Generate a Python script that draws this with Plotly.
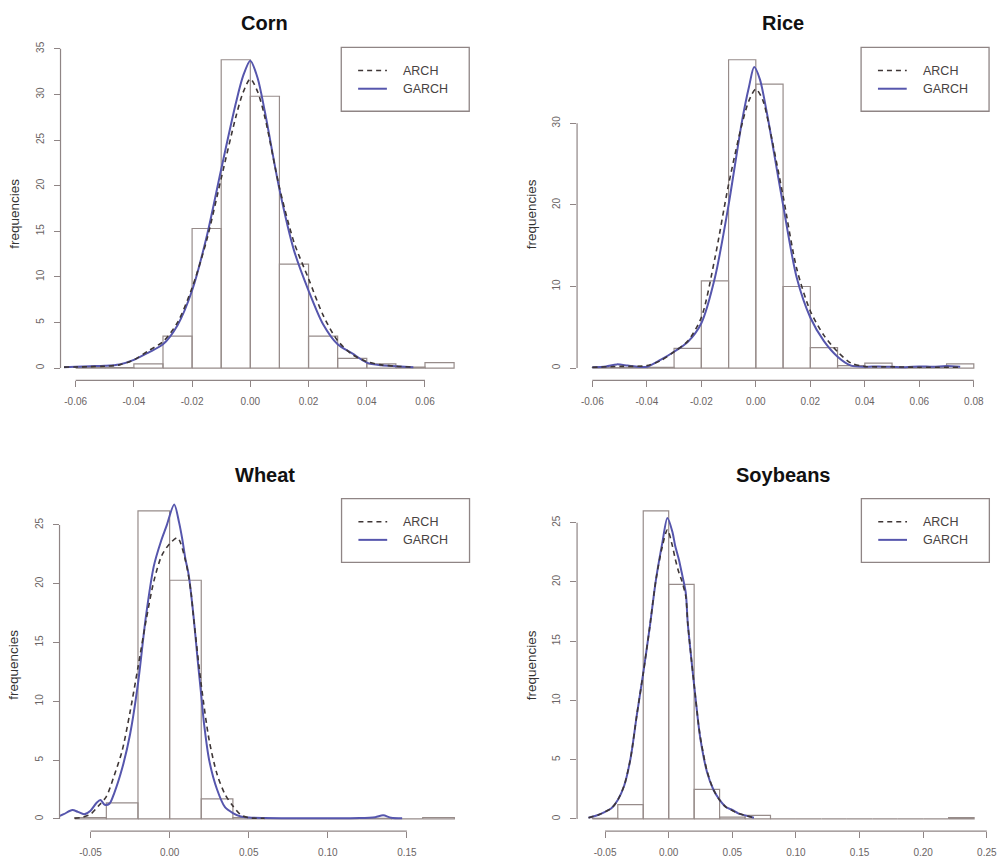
import plotly.graph_objects as go

# ---------------- data ----------------
panel_titles = ["Corn", "Rice", "Wheat", "Soybeans"]
series_names = ["ARCH", "GARCH"]

# histogram breaks and bar heights (density scale)
corn_breaks = [-0.06, -0.05, -0.04, -0.03, -0.02, -0.01, 0.0, 0.01, 0.02, 0.03, 0.04, 0.05, 0.06, 0.07]
corn_freq = [0.05, 0.05, 0.45, 3.5, 15.3, 33.8, 29.8, 11.4, 3.5, 1.05, 0.45, 0.1, 0.6]

rice_breaks = [-0.06, -0.05, -0.04, -0.03, -0.02, -0.01, 0.0, 0.01, 0.02, 0.03, 0.04, 0.05, 0.06, 0.07, 0.08]
rice_freq = [0.05, 0.05, 0.1, 2.4, 10.7, 37.8, 34.8, 10.0, 2.5, 0.3, 0.6, 0.1, 0.1, 0.5]

wheat_breaks = [-0.06, -0.04, -0.02, 0.0, 0.02, 0.04, 0.06, 0.08, 0.10, 0.12, 0.14, 0.16, 0.18]
wheat_freq = [0.12, 1.36, 26.2, 20.3, 1.7, 0.12, 0.0, 0.0, 0.0, 0.05, 0.0, 0.12]

soy_breaks = [-0.06, -0.04, -0.02, 0.0, 0.02, 0.04, 0.06, 0.08, 0.10, 0.12, 0.14, 0.16, 0.18, 0.20, 0.22, 0.24]
soy_freq = [0.05, 1.2, 26.0, 19.8, 2.5, 0.15, 0.3, 0.0, 0.0, 0.0, 0.0, 0.0, 0.0, 0.0, 0.1]

# fitted densities
corn_x = [-0.064, -0.06, -0.055, -0.05, -0.045, -0.04, -0.035, -0.03, -0.025, -0.02, -0.015, -0.01,
          -0.005, -0.0025, 0.0, 0.0025, 0.005, 0.01, 0.015, 0.02, 0.025, 0.03, 0.035, 0.04, 0.045,
          0.05, 0.056]
corn_garch = [0.1, 0.15, 0.2, 0.25, 0.4, 0.9, 1.7, 2.6, 4.7, 8.5, 14.4, 21.8, 29.0, 32.0, 33.7,
              31.8, 28.1, 19.6, 12.9, 8.5, 4.8, 2.6, 1.6, 0.6, 0.3, 0.2, 0.1]
corn_arch = [0.1, 0.12, 0.15, 0.2, 0.35, 0.9, 1.9, 2.9, 5.0, 8.8, 14.0, 20.8, 27.5, 30.2, 31.7,
             30.3, 27.5, 19.8, 13.8, 9.8, 5.8, 3.0, 1.5, 0.7, 0.35, 0.2, 0.1]

rice_garch_x = [-0.06, -0.055, -0.051, -0.047, -0.043, -0.04, -0.035, -0.03, -0.025, -0.02, -0.015,
                -0.01, -0.005, -0.0025, -0.0006, 0.0015, 0.004, 0.0062, 0.01, 0.015, 0.02, 0.025,
                0.03, 0.035, 0.04, 0.045, 0.05, 0.055, 0.06, 0.065, 0.07, 0.075]
rice_garch = [0.1, 0.2, 0.45, 0.3, 0.15, 0.15, 1.0, 2.0, 3.2, 5.5, 11.1, 20.0, 30.4, 34.5, 36.9,
              35.4, 31.4, 27.3, 20.0, 11.1, 6.2, 3.3, 1.4, 0.3, 0.15, 0.2, 0.15, 0.1, 0.2, 0.15,
              0.25, 0.15]
rice_arch_x = [-0.06, -0.05, -0.04, -0.035, -0.03, -0.025, -0.02, -0.015, -0.01, -0.005, -0.0025,
               0.0, 0.0025, 0.005, 0.01, 0.015, 0.02, 0.025, 0.03, 0.035, 0.04, 0.05, 0.06, 0.075]
rice_arch = [0.1, 0.2, 0.3, 0.9, 2.0, 3.3, 6.2, 13.5, 22.5, 30.0, 32.8, 34.2, 32.9, 29.5, 21.1,
             12.2, 7.0, 4.0, 2.0, 0.6, 0.2, 0.15, 0.1, 0.1]

wheat_garch_x = [-0.072, -0.067, -0.0615, -0.058, -0.054, -0.05, -0.046, -0.0437, -0.041, -0.038,
                 -0.035, -0.03, -0.025, -0.02, -0.015, -0.01, -0.0055, -0.002, 0.0029, 0.006,
                 0.008, 0.01, 0.012, 0.015, 0.0176, 0.02, 0.0218, 0.025, 0.03, 0.035, 0.04,
                 0.045, 0.05, 0.06, 0.08, 0.1, 0.12, 0.13, 0.135, 0.14, 0.147]
wheat_garch = [0.1, 0.4, 0.75, 0.6, 0.4, 0.7, 1.4, 1.6, 1.2, 1.3, 2.2, 4.3, 7.2, 11.5, 17.2, 21.5,
               23.6, 24.9, 26.75, 25.2, 23.8, 22.1, 20.8, 17.4, 13.7, 10.5, 8.05, 5.0, 2.5, 1.0,
               0.5, 0.2, 0.12, 0.08, 0.05, 0.05, 0.07, 0.15, 0.3, 0.1, 0.05]
wheat_arch_x = [-0.06, -0.055, -0.05, -0.045, -0.04, -0.035, -0.03, -0.025, -0.02, -0.015, -0.01,
                -0.005, 0.0, 0.005, 0.01, 0.0134, 0.015, 0.02, 0.025, 0.03, 0.035, 0.04, 0.045,
                0.05, 0.06]
wheat_arch = [0.05, 0.15, 0.4, 1.1, 1.9, 3.7, 5.8, 9.1, 12.9, 16.8, 20.2, 22.4, 23.4, 23.9, 22.0,
              19.4, 17.3, 11.4, 6.7, 3.8, 2.1, 1.1, 0.35, 0.1, 0.05]

soy_x = [-0.063, -0.055, -0.05, -0.045, -0.04, -0.035, -0.03, -0.025, -0.02, -0.015, -0.01, -0.005,
         -0.001, 0.003, 0.005, 0.008, 0.01, 0.0134, 0.015, 0.0178, 0.02, 0.0234, 0.025, 0.03, 0.035,
         0.04, 0.045, 0.05, 0.055, 0.06, 0.067]
soy_garch = [0.1, 0.35, 0.6, 0.9, 1.6, 2.8, 5.1, 8.8, 12.3, 16.1, 20.2, 23.3, 25.4, 24.2, 23.1, 21.9,
             20.9, 19.1, 16.5, 13.5, 11.3, 7.96, 6.7, 4.0, 2.5, 1.6, 1.0, 0.75, 0.45, 0.3, 0.1]
soy_arch = [0.1, 0.35, 0.6, 0.9, 1.6, 2.8, 5.1, 8.8, 12.3, 16.1, 20.2, 23.0, 24.4, 23.0, 22.0, 20.8,
            20.2, 18.8, 16.5, 13.5, 11.3, 8.0, 6.8, 4.1, 2.5, 1.6, 1.0, 0.7, 0.45, 0.3, 0.1]

# axis ticks
corn_xticks = [-0.06, -0.04, -0.02, 0.0, 0.02, 0.04, 0.06]
corn_xlabels = ["-0.06", "-0.04", "-0.02", "0.00", "0.02", "0.04", "0.06"]
corn_yticks = [0, 5, 10, 15, 20, 25, 30, 35]

rice_xticks = [-0.06, -0.04, -0.02, 0.0, 0.02, 0.04, 0.06, 0.08]
rice_xlabels = ["-0.06", "-0.04", "-0.02", "0.00", "0.02", "0.04", "0.06", "0.08"]
rice_yticks = [0, 10, 20, 30]

wheat_xticks = [-0.05, 0.0, 0.05, 0.10, 0.15]
wheat_xlabels = ["-0.05", "0.00", "0.05", "0.10", "0.15"]
wheat_yticks = [0, 5, 10, 15, 20, 25]

soy_xticks = [-0.05, 0.0, 0.05, 0.10, 0.15, 0.20, 0.25]
soy_xlabels = ["-0.05", "0.00", "0.05", "0.10", "0.15", "0.20", "0.25"]
soy_yticks = [0, 5, 10, 15, 20, 25]

panels = [
    dict(breaks=corn_breaks, freq=corn_freq,
         garch=(corn_x, corn_garch), arch=(corn_x, corn_arch),
         xticks=corn_xticks, xlabels=corn_xlabels, yticks=corn_yticks),
    dict(breaks=rice_breaks, freq=rice_freq,
         garch=(rice_garch_x, rice_garch), arch=(rice_arch_x, rice_arch),
         xticks=rice_xticks, xlabels=rice_xlabels, yticks=rice_yticks),
    dict(breaks=wheat_breaks, freq=wheat_freq,
         garch=(wheat_garch_x, wheat_garch), arch=(wheat_arch_x, wheat_arch),
         xticks=wheat_xticks, xlabels=wheat_xlabels, yticks=wheat_yticks),
    dict(breaks=soy_breaks, freq=soy_freq,
         garch=(soy_x, soy_garch), arch=(soy_x, soy_arch),
         xticks=soy_xticks, xlabels=soy_xlabels, yticks=soy_yticks),
]

# ---------------- layout geometry (pixels) ----------------
W, H = 1005, 863
# plot regions: left, top, right, bottom
regions = [
    (61.0, 41.7, 473.0, 377.0),
    (581.7, 41.7, 997.0, 377.0),
    (60.0, 496.0, 473.3, 831.0),
    (581.7, 496.0, 997.3, 831.0),
]
LEG_W, LEG_H = 129.0, 64.3

FONT = "Liberation Sans, Arial, sans-serif"
AXIS_COL = "#8f8585"
BAR_COL = "#978c8a"
TICK_FONT = dict(family=FONT, size=10, color="#6a6464")
GARCH_COL = "#5656ad"
ARCH_COL = "#3e3636"
ARCH_DASH = "5px,4px"

fig = go.Figure()
shapes, annotations = [], []


def r_lim(lo, hi):
    pad = 0.04 * (hi - lo)
    return [lo - pad, hi + pad]


for i, (p, reg, title) in enumerate(zip(panels, regions, panel_titles)):
    n = "" if i == 0 else str(i + 1)
    xa, ya = "x" + n, "y" + n
    left, top, right, bottom = reg
    rw, rh = right - left, bottom - top

    # histogram outline, one rectangle per bin
    hx, hy = [], []
    for k, h in enumerate(p["freq"]):
        x0, x1 = p["breaks"][k], p["breaks"][k + 1]
        hx += [x0, x0, x1, x1, x0, None]
        hy += [0, h, h, 0, 0, None]
    fig.add_trace(go.Scatter(x=hx, y=hy, mode="lines", xaxis=xa, yaxis=ya,
                             line=dict(color=BAR_COL, width=1.2), hoverinfo="skip",
                             showlegend=False))
    gx, gy = p["garch"]
    fig.add_trace(go.Scatter(x=gx, y=gy, mode="lines", xaxis=xa, yaxis=ya, name="GARCH",
                             line=dict(color=GARCH_COL, width=2, shape="spline", smoothing=0.8),
                             showlegend=False))
    ax_, ay_ = p["arch"]
    fig.add_trace(go.Scatter(x=ax_, y=ay_, mode="lines", xaxis=xa, yaxis=ya, name="ARCH",
                             line=dict(color=ARCH_COL, width=1.6, dash=ARCH_DASH,
                                       shape="spline", smoothing=0.8),
                             showlegend=False))

    xr = r_lim(p["breaks"][0], p["breaks"][-1])
    yr = r_lim(0, max(p["freq"]))

    fig.update_layout(**{
        ("xaxis" + n): dict(domain=[left / W, right / W], range=xr, anchor=ya,
                             showline=False, showgrid=False, zeroline=False,
                             ticks="outside", ticklen=6, tickwidth=1, tickcolor=AXIS_COL,
                             tickvals=p["xticks"], ticktext=p["xlabels"],
                             tickfont=TICK_FONT, ticklabelstandoff=6, fixedrange=True),
        ("yaxis" + n): dict(domain=[1 - bottom / H, 1 - top / H], range=yr, anchor=xa,
                             showline=False, showgrid=False, zeroline=False,
                             ticks="outside", ticklen=6, tickwidth=1, tickcolor=AXIS_COL,
                             tickvals=p["yticks"], ticktext=[str(v) for v in p["yticks"]],
                             tickangle=-90, tickfont=TICK_FONT, ticklabelstandoff=6,
                             fixedrange=True),
    })

    # R-style axis lines spanning only the first to last tick
    shapes.append(dict(type="line", xref=xa, yref=ya + " domain",
                       x0=p["xticks"][0], x1=p["xticks"][-1], y0=0, y1=0,
                       line=dict(color=AXIS_COL, width=1.2)))
    shapes.append(dict(type="line", xref=xa + " domain", yref=ya,
                       x0=0, x1=0, y0=p["yticks"][0], y1=p["yticks"][-1],
                       line=dict(color=AXIS_COL, width=1.2)))

    # panel title
    annotations.append(dict(text="<b>" + title + "</b>", xref=xa + " domain", yref=ya + " domain",
                            x=0.5, y=1, yshift=24, showarrow=False, xanchor="center",
                            yanchor="middle",
                            font=dict(family=FONT, size=20, color="#111111")))
    # y axis label
    annotations.append(dict(text="frequencies", xref="paper", yref=ya + " domain",
                            x=(left - 46) / W, y=0.5, textangle=-90, showarrow=False,
                            xanchor="center", yanchor="middle",
                            font=dict(family=FONT, size=13.5, color="#333333")))

    # legend box in the top-right corner of the plot region
    bx0 = 1 - LEG_W / rw
    shapes.append(dict(type="rect", xref=xa + " domain", yref=ya + " domain",
                       x0=bx0, x1=1, y0=1 - LEG_H / rh, y1=1,
                       line=dict(color=AXIS_COL, width=1.3), fillcolor="rgba(255,255,255,0)"))
    styles = {"ARCH": dict(color=ARCH_COL, width=1.6, dash=ARCH_DASH),
              "GARCH": dict(color=GARCH_COL, width=2)}
    for j, name in enumerate(series_names):
        yy = 1 - (23.3 + 18.3 * j) / rh
        shapes.append(dict(type="line", xref=xa + " domain", yref=ya + " domain",
                           x0=bx0 + 17 / rw, x1=bx0 + 46 / rw, y0=yy, y1=yy,
                           line=styles[name]))
        annotations.append(dict(text=name, xref=xa + " domain", yref=ya + " domain",
                                x=bx0 + 60 / rw, y=yy, showarrow=False, xanchor="left",
                                yanchor="middle",
                                font=dict(family=FONT, size=12.5, color="#474242")))

fig.update_layout(width=W, height=H, margin=dict(l=0, r=0, t=0, b=0),
                  paper_bgcolor="white", plot_bgcolor="white",
                  shapes=shapes, annotations=annotations, showlegend=False)

fig.write_html("out.html")
